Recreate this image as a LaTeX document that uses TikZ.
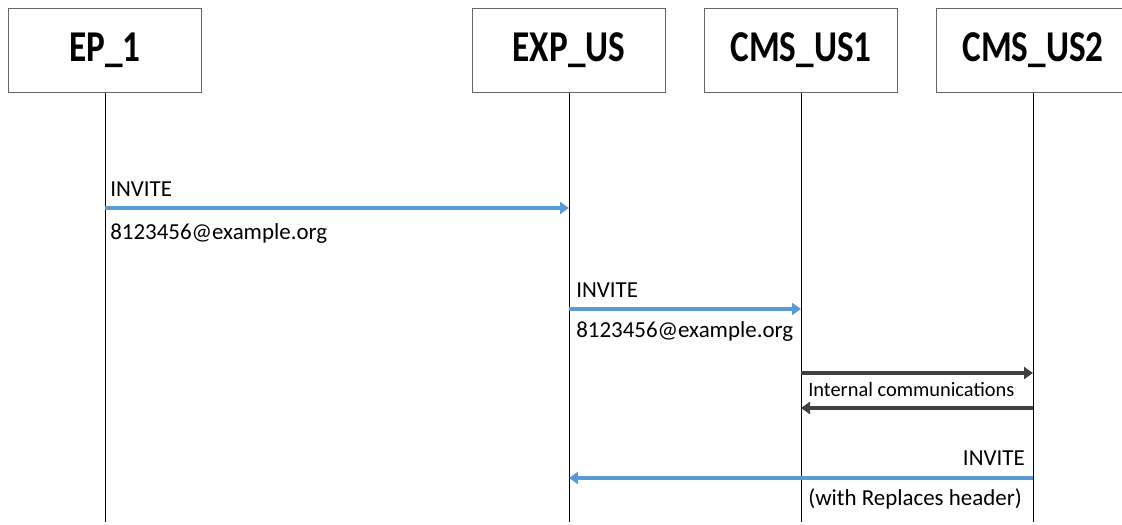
\documentclass[tikz,border=0pt]{standalone}
\usepackage{fontspec}
\setmainfont{Carlito}
\newfontfamily\headfont[FakeStretch=0.8]{Carlito}
\usetikzlibrary{arrows.meta}
\definecolor{msgblue}{HTML}{5B9BD5}
\definecolor{msgdark}{HTML}{404040}
\tikzset{
    actor/.style={draw=black!60,line width=0.75pt,minimum width=144.75pt,minimum height=63pt,
        font=\headfont\bfseries\fontsize{33}{36}\selectfont},
    life/.style={line width=0.75pt},
    msg/.style={msgblue,line width=2.4pt,-{Triangle[length=6.75pt,width=9pt]}},
    inner/.style={msgdark,line width=2.4pt,-{Triangle[length=6.75pt,width=9pt]}},
    lbl/.style={anchor=base west,inner sep=0pt,font=\fontsize{17.2}{19}\selectfont},
    lblr/.style={lbl,anchor=base east},
}
\begin{document}
\begin{tikzpicture}[x=0.75pt,y=-0.75pt]
    \useasboundingbox (0,0) rectangle (1122,525);
    % participants and their lifelines
    \foreach \n/\x/\t in {ep/105/EP\_1,exp/569/EXP\_US,cmsa/801/CMS\_US1,cmsb/1033/CMS\_US2} {
        \node[actor] (\n) at (\x,50) {\t};
        \coordinate (\n-end) at (\x,522);
        \draw[life] (\n.south) -- (\n-end);
    }
    % INVITE from EP_1
    \draw[msg] (ep |- 0,208) -- (exp |- 0,208);
    \node[lbl] (inv1) at (110,196) {INVITE};
    \node[lbl] (uri1) at (110,239) {8123456@example.org};
    % INVITE to CMS_US1
    \draw[msg] (exp |- 0,309) -- (cmsa |- 0,309);
    \node[lbl] (inv2) at (576,297) {INVITE};
    \node[lbl] (uri2) at (576,337) {8123456@example.org};
    % internal
    \draw[inner] (cmsa |- 0,373) -- (cmsb |- 0,373);
    \draw[inner] (cmsb |- 0,408) -- (cmsa |- 0,408);
    \node[lbl,font=\fontsize{15.3}{17}\selectfont] (intc) at (808,396) {Internal communications};
    % INVITE back to EXP_US
    \draw[msg] (cmsb |- 0,478) -- (exp |- 0,478);
    \node[lblr] (inv3) at (1025,465) {INVITE};
    \node[lblr] (repl) at (1022,505) {(with Replaces header)};
\end{tikzpicture}
\end{document}
